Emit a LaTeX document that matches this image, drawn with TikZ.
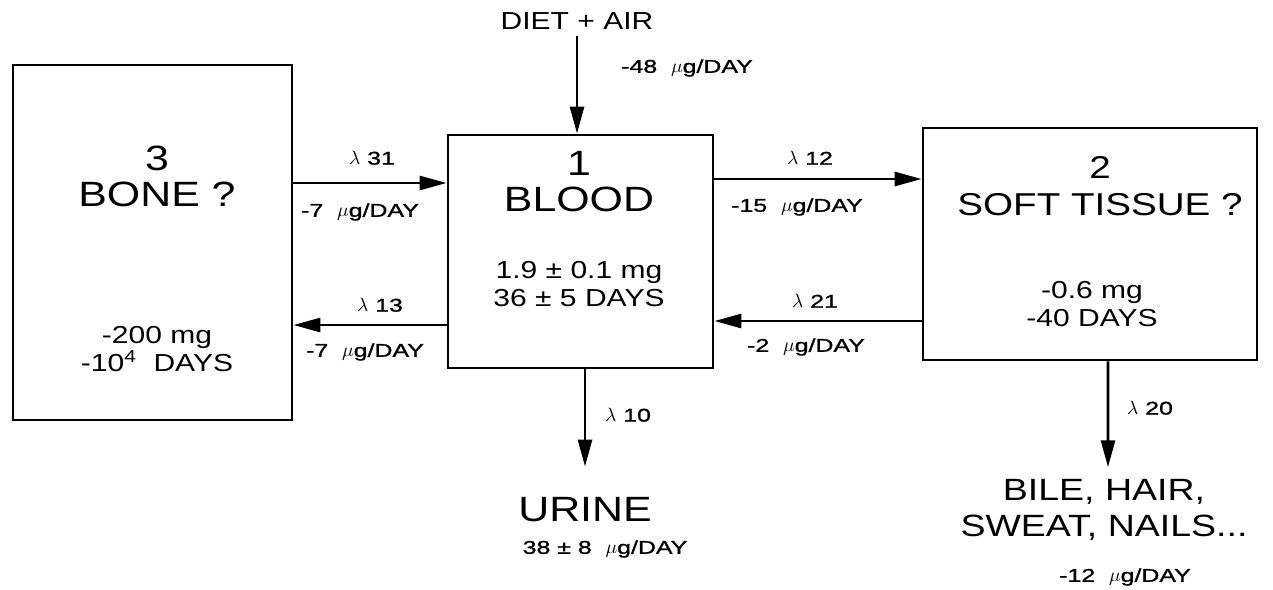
\documentclass[tikz,border=0pt]{standalone}
\usepackage{fontspec}
\setmainfont[FakeStretch=1.22]{Liberation Sans}
\newfontfamily\ratefont[FakeStretch=1.35,FakeBold=1.2]{Liberation Sans}
\usetikzlibrary{arrows.meta}

\begin{document}
\begin{tikzpicture}[x=0.02cm,y=-0.02cm,
  box/.style={draw,line width=1.6pt,inner sep=0pt},
  flow/.style={line width=1.6pt,-{Triangle[length=0.54cm,width=0.28cm]}},
  big/.style={font=\fontsize{20}{20.5}\selectfont,align=center},
  mid/.style={font=\fontsize{14}{16}\selectfont,align=center},
  small/.style={font=\ratefont\fontsize{10.5}{12}\selectfont}]
\useasboundingbox (0,0) rectangle (1273,589);
% compartments
\node[box,minimum width=5.58cm,minimum height=7.1cm] (bone) at (152.5,242.5) {};
\node[box,minimum width=5.3cm,minimum height=4.66cm] (blood) at (580.5,251.5) {};
\node[box,minimum width=6.68cm,minimum height=4.64cm] (soft) at (1090,244) {};
\node[big] (boneT) at (157,176) {3\\BONE ?};
\node[mid] (boneV) at (157,349) {-200 mg\\-10\textsuperscript{4}\ \ DAYS};
\node[big] (bloodT) at (579,182) {1\\BLOOD};
\node[mid] (bloodV) at (579,284) {1.9 ± 0.1 mg\\36 ± 5 DAYS};
\node[big,font=\fontsize{18}{21.5}\selectfont] (softT) at (1100,186) {2\\SOFT TISSUE ?};
\node[mid] (softV) at (1092,304) {-0.6 mg\\-40 DAYS};
% sources and sinks
\node[mid] (diet) at (577,21) {DIET + AIR};
\node[big] (urine) at (585,510) {URINE};
\node[big,font=\fontsize{17.5}{20.5}\selectfont] (bile) at (1104,510) {BILE,\ HAIR,\\SWEAT,\ NAILS...};
% exchanges
\draw[flow] (bone.east |- 0,183) -- (blood.west |- 0,183);
\draw[flow] (blood.west |- 0,325) -- (bone.east |- 0,325);
\draw[flow] (blood.east |- 0,179) -- (soft.west |- 0,179);
\draw[flow] (soft.west |- 0,321) -- (blood.east |- 0,321);
\draw[flow] (diet.south) -- (diet.south |- blood.north);
\draw[flow] (blood.south -| urine.north) -- ([yshift=0.5cm]urine.north);
\draw[flow] (soft.south -| 1108,0) -- ([xshift=0.08cm,yshift=0.12cm]bile.north);
% rates
\node[small] (l31) at (372,158) {$\lambda$ 31};
\node[small] (r31) at (360,212) {-7\ \ $\mu$g/DAY};
\node[small] (l13) at (380,305) {$\lambda$ 13};
\node[small] (r13) at (365,352) {-7\ \ $\mu$g/DAY};
\node[small] (l12) at (810,158) {$\lambda$ 12};
\node[small] (r12) at (797,207) {-15\ \ $\mu$g/DAY};
\node[small] (l21) at (815,301) {$\lambda$ 21};
\node[small] (r21) at (806,347) {-2\ \ $\mu$g/DAY};
\node[small] (rin) at (687,68) {-48\ \ $\mu$g/DAY};
\node[small] (l10) at (628,415) {$\lambda$ 10};
\node[small] (r10) at (605,549) {38 ± 8\ \ $\mu$g/DAY};
\node[small] (l20) at (1150,408) {$\lambda$ 20};
\node[small] (r20) at (1125,577) {-12\ \ $\mu$g/DAY};
\end{tikzpicture}
\end{document}
